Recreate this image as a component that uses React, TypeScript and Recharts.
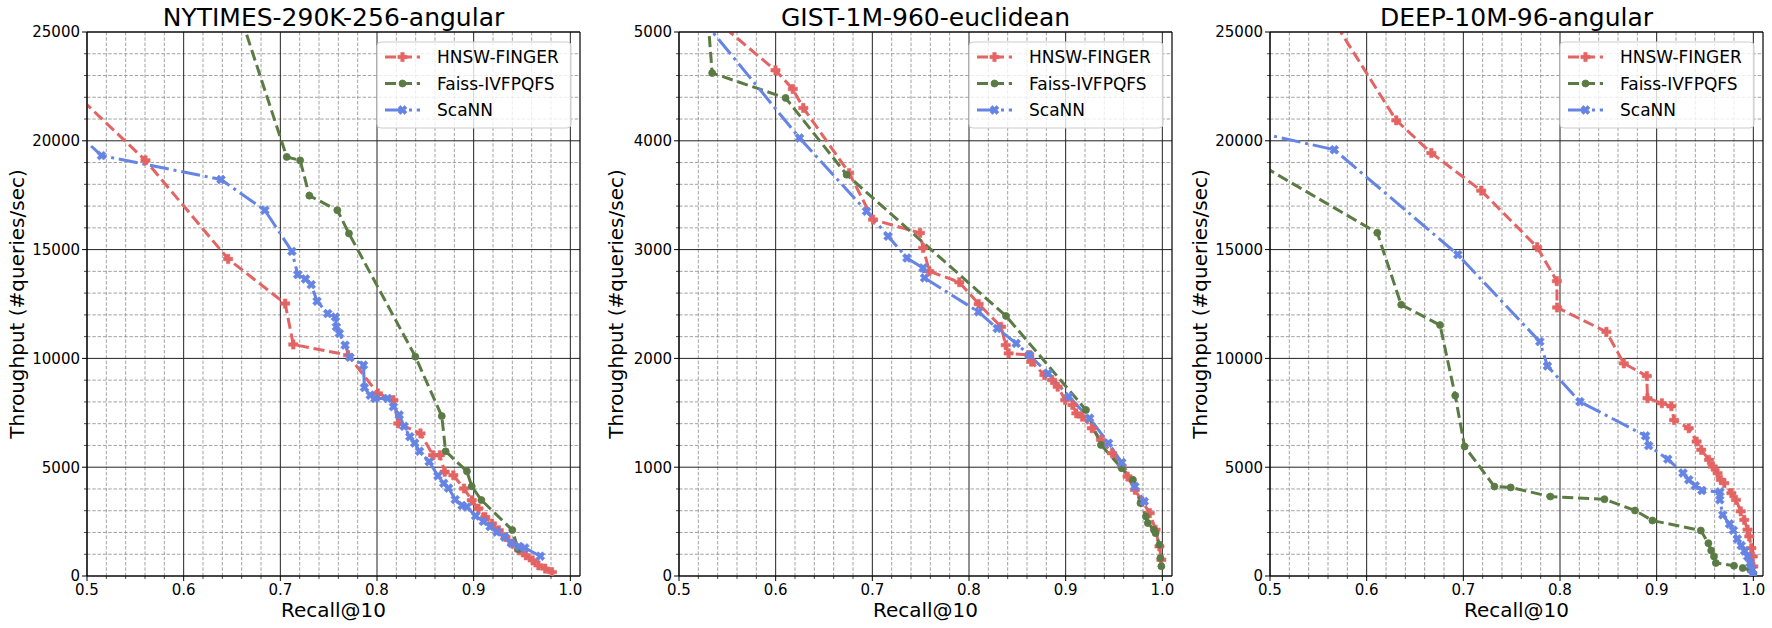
import React from 'react';
import { LineChart, Line, XAxis, YAxis, CartesianGrid, ReferenceLine } from 'recharts';

// ---------- data ----------
// NYTIMES-290K-256-angular
const nytHnswRecall = [0.46, 0.5605, 0.646, 0.705, 0.7134, 0.77, 0.801, 0.817, 0.822, 0.845, 0.858, 0.865, 0.87, 0.879, 0.89, 0.898, 0.905, 0.912, 0.919, 0.926, 0.933, 0.94, 0.947, 0.954, 0.961, 0.967, 0.974, 0.981];
const nytHnswQps = [23350, 19100, 14570, 12520, 10640, 10150, 8390, 8080, 7010, 6550, 5550, 5550, 4790, 4630, 4020, 3480, 3100, 2710, 2410, 2100, 1790, 1490, 1180, 950, 720, 490, 340, 180];
const nytFaissRecall = [0.655, 0.7066, 0.7205, 0.73, 0.759, 0.771, 0.8397, 0.867, 0.871, 0.893, 0.898, 0.908, 0.94, 0.946];
const nytFaissQps = [26260, 19260, 19100, 17480, 16810, 15740, 10080, 7350, 5730, 4810, 4120, 3490, 2110, 1230];
const nytScannRecall = [0.48, 0.515, 0.6386, 0.684, 0.712, 0.718, 0.726, 0.732, 0.738, 0.749, 0.757, 0.758, 0.761, 0.767, 0.772, 0.786, 0.787, 0.793, 0.798, 0.811, 0.817, 0.823, 0.828, 0.834, 0.839, 0.844, 0.854, 0.863, 0.869, 0.874, 0.881, 0.888, 0.893, 0.902, 0.91, 0.917, 0.924, 0.932, 0.939, 0.947, 0.953, 0.969];
const nytScannQps = [20750, 19320, 18220, 16810, 14920, 13850, 13650, 13390, 12630, 12060, 11900, 11450, 11150, 10610, 10050, 9690, 8660, 8310, 8160, 8160, 7780, 7400, 6880, 6400, 6110, 5730, 5250, 4600, 4260, 4040, 3510, 3240, 3170, 2760, 2510, 2270, 2020, 1790, 1510, 1360, 1290, 910];

// GIST-1M-960-euclidean
const gistHnswRecall = [0.535, 0.5998, 0.6177, 0.6286, 0.676, 0.7007, 0.7494, 0.7525, 0.759, 0.79, 0.81, 0.8332, 0.838, 0.841, 0.8624, 0.8644, 0.878, 0.886, 0.8917, 0.8995, 0.907, 0.911, 0.917, 0.927, 0.9365, 0.948, 0.958, 0.964, 0.9716, 0.9793, 0.987, 0.993, 0.997, 0.999];
const gistHnswQps = [5130, 4648, 4476, 4302, 3704, 3276, 3153, 3015, 2801, 2700, 2500, 2291, 2122, 2046, 2031, 1969, 1847, 1801, 1740, 1618, 1572, 1495, 1465, 1358, 1251, 1128, 1006, 914, 792, 685, 578, 425, 272, 150];
const gistFaissRecall = [0.5275, 0.5343, 0.6103, 0.6734, 0.8383, 0.921, 0.9365, 0.958, 0.9696, 0.9774, 0.983, 0.985, 0.9913, 0.993, 0.997, 0.998, 0.999];
const gistFaissQps = [5400, 4623, 4394, 3689, 2390, 1526, 1205, 991, 884, 670, 547, 486, 425, 394, 287, 165, 89];
const gistScannRecall = [0.52, 0.6247, 0.694, 0.7163, 0.7358, 0.7525, 0.754, 0.8098, 0.8293, 0.8488, 0.8624, 0.882, 0.9033, 0.9248, 0.9443, 0.958, 0.9716, 0.9813];
const gistScannQps = [5160, 4026, 3352, 3123, 2923, 2831, 2740, 2428, 2275, 2138, 2031, 1862, 1648, 1450, 1220, 1043, 823, 685];

// DEEP-10M-96-angular
const deepHnswRecall = [0.56, 0.6306, 0.6669, 0.7185, 0.7764, 0.7967, 0.797, 0.848, 0.866, 0.8898, 0.8905, 0.9054, 0.9152, 0.918, 0.9332, 0.9413, 0.9461, 0.9541, 0.958, 0.963, 0.9664, 0.97, 0.9773, 0.982, 0.987, 0.9906, 0.994, 0.9958, 0.998, 0.9995, 1.0];
const deepHnswQps = [25930, 20940, 19440, 17710, 15110, 13550, 12340, 11220, 9770, 9190, 8170, 7940, 7800, 7170, 6790, 6180, 5800, 5340, 5030, 4730, 4420, 4270, 3810, 3500, 2970, 2580, 2130, 1820, 1280, 900, 440];
const deepFaissRecall = [0.48, 0.611, 0.6357, 0.6759, 0.6916, 0.7013, 0.7322, 0.749, 0.79, 0.846, 0.8776, 0.8956, 0.9457, 0.9535, 0.9564, 0.9593, 0.9612, 0.98, 0.989, 0.997, 1.0];
const deepFaissQps = [19160, 15770, 12470, 11530, 8290, 5950, 4110, 4070, 3650, 3530, 3010, 2550, 2090, 1510, 1170, 900, 596, 474, 367, 275, 100];
const deepScannRecall = [0.48, 0.5665, 0.6943, 0.7791, 0.787, 0.8206, 0.8886, 0.8917, 0.9115, 0.9273, 0.9332, 0.94, 0.9468, 0.9655, 0.9653, 0.9684, 0.9754, 0.9793, 0.9834, 0.9875, 0.991, 0.994, 0.9965, 0.9985, 0.9995];
const deepScannQps = [20450, 19590, 14770, 10770, 9650, 8010, 6440, 5990, 5370, 4730, 4420, 4150, 3930, 3860, 3500, 2810, 2390, 2100, 1700, 1400, 1150, 900, 600, 300, 80];

// ticks
const X_MAJOR = [0.5, 0.6, 0.7, 0.8, 0.9, 1.0];
const X_MINOR = [0.52, 0.54, 0.56, 0.58, 0.62, 0.64, 0.66, 0.68, 0.72, 0.74, 0.76, 0.78, 0.82, 0.84, 0.86, 0.88, 0.92, 0.94, 0.96, 0.98];
const Y25_MAJOR = [0, 5000, 10000, 15000, 20000, 25000];
const Y25_MINOR = [1000, 2000, 3000, 4000, 6000, 7000, 8000, 9000, 11000, 12000, 13000, 14000, 16000, 17000, 18000, 19000, 21000, 22000, 23000, 24000];
const Y5_MAJOR = [0, 1000, 2000, 3000, 4000, 5000];
const Y5_MINOR = [200, 400, 600, 800, 1200, 1400, 1600, 1800, 2200, 2400, 2600, 2800, 3200, 3400, 3600, 3800, 4200, 4400, 4600, 4800];

const SERIES_NAMES = ['HNSW-FINGER', 'Faiss-IVFPQFS', 'ScaNN'];

// ---------- styling ----------
const RED = '#e46363';
const GREEN = '#5b7b45';
const BLUE = '#6584e4';
const FONT = '"DejaVu Sans", "Liberation Sans", sans-serif';

const STYLES = [
  { color: RED, dash: '11.1 4.8', shape: 'plus' },
  { color: GREEN, dash: '11.1 4.8', shape: 'circle' },
  { color: BLUE, dash: '19.2 4.8 3 4.8', shape: 'x' },
];

const X_MAX = 1.01;
const PLOT_TOP = 32;
const PLOT_BOTTOM = 576;
const PLOT_W = 493;
const AXIS_LEFT = 87; // plot left inside each chart svg
const CHART_W = 590;
const FIG_W = 1772;
const FIG_H = 628;
const TICK_FS = 15;

const zip = (xs: number[], ys: number[]) => xs.map((x, i) => ({ x, y: ys[i] }));

const PANELS = [
  {
    title: 'NYTIMES-290K-256-angular', left: 87, yMax: 25000, yMajor: Y25_MAJOR, yMinor: Y25_MINOR, labelGap: 70,
    series: [zip(nytHnswRecall, nytHnswQps), zip(nytFaissRecall, nytFaissQps), zip(nytScannRecall, nytScannQps)],
  },
  {
    title: 'GIST-1M-960-euclidean', left: 679, yMax: 5000, yMajor: Y5_MAJOR, yMinor: Y5_MINOR, labelGap: 63,
    series: [zip(gistHnswRecall, gistHnswQps), zip(gistFaissRecall, gistFaissQps), zip(gistScannRecall, gistScannQps)],
  },
  {
    title: 'DEEP-10M-96-angular', left: 1270, yMax: 25000, yMajor: Y25_MAJOR, yMinor: Y25_MINOR, labelGap: 70,
    series: [zip(deepHnswRecall, deepHnswQps), zip(deepFaissRecall, deepFaissQps), zip(deepScannRecall, deepScannQps)],
  },
];

function Marker({ shape, cx, cy, color }: { shape: string; cx: number; cy: number; color: string }) {
  if (shape === 'circle') return <circle cx={cx} cy={cy} r={3.5} fill={color} stroke={color} strokeWidth={0.8} />;
  const a = 4.6;
  const b = 1.7;
  const pts = [[-b, -a], [b, -a], [b, -b], [a, -b], [a, b], [b, b], [b, a], [-b, a], [-b, b], [-a, b], [-a, -b], [-b, -b]];
  const rot = shape === 'x' ? 45 : 0;
  return (
    <polygon
      points={pts.map(([px, py]) => `${cx + px},${cy + py}`).join(' ')}
      fill={color}
      stroke={color}
      strokeWidth={0.6}
      transform={`rotate(${rot} ${cx} ${cy})`}
    />
  );
}

const isMajor = (v: number, majors: number[]) => majors.some((m) => Math.abs(m - v) < 1e-9);

function Panel({ panel }: { panel: (typeof PANELS)[number] }) {
  const xTicks = [...X_MAJOR, ...X_MINOR].sort((a, b) => a - b);
  const yTicks = [...panel.yMajor, ...panel.yMinor].sort((a, b) => a - b);

  const xTick = (props: any) => {
    const { x, payload } = props;
    const major = isMajor(payload.value, X_MAJOR);
    return (
      <g>
        <line x1={x} x2={x} y1={PLOT_BOTTOM} y2={PLOT_BOTTOM + (major ? 5 : 3)} stroke="#000" strokeWidth={major ? 1 : 0.7} />
        {major && (
          <text x={x} y={PLOT_BOTTOM + 19} textAnchor="middle" fontSize={TICK_FS} fill="#000" fontFamily={FONT}>
            {payload.value.toFixed(1)}
          </text>
        )}
      </g>
    );
  };

  const yTick = (props: any) => {
    const { y, payload } = props;
    const major = isMajor(payload.value, panel.yMajor);
    return (
      <g>
        <line x1={AXIS_LEFT - (major ? 5 : 3)} x2={AXIS_LEFT} y1={y} y2={y} stroke="#000" strokeWidth={major ? 1 : 0.7} />
        {major && (
          <text x={AXIS_LEFT - 7} y={y} dy="0.36em" textAnchor="end" fontSize={TICK_FS} fill="#000" fontFamily={FONT}>
            {payload.value}
          </text>
        )}
      </g>
    );
  };

  return (
    <div style={{ position: 'absolute', left: panel.left - AXIS_LEFT, top: 0 }}>
      <LineChart width={CHART_W} height={FIG_H} margin={{ top: PLOT_TOP, right: CHART_W - AXIS_LEFT - PLOT_W, bottom: 22, left: 27 }}>
        <CartesianGrid verticalValues={X_MINOR} horizontalValues={panel.yMinor} stroke="#8c8c8c" strokeWidth={0.8} strokeDasharray="3.5 1.8" />
        <CartesianGrid verticalValues={X_MAJOR} horizontalValues={panel.yMajor} stroke="#222" strokeWidth={1} />
        <XAxis
          type="number"
          dataKey="x"
          domain={[0.5, X_MAX]}
          allowDataOverflow
          ticks={xTicks}
          interval={0}
          tick={xTick}
          tickLine={false}
          axisLine={false}
          height={30}
        />
        <YAxis
          type="number"
          dataKey="y"
          domain={[0, panel.yMax]}
          allowDataOverflow
          ticks={yTicks}
          interval={0}
          tick={yTick}
          tickLine={false}
          axisLine={false}
          width={60}
        />
        {panel.series.map((data, i) => (
          <Line
            key={SERIES_NAMES[i]}
            data={data}
            dataKey="y"
            name={SERIES_NAMES[i]}
            type="linear"
            stroke={STYLES[i].color}
            strokeWidth={3}
            strokeDasharray={STYLES[i].dash}
            dot={(p: any) =>
              p.cx == null || p.cy == null ? (
                <g key={p.index} />
              ) : (
                <Marker key={p.index} shape={STYLES[i].shape} cx={p.cx} cy={p.cy} color={STYLES[i].color} />
              )
            }
            activeDot={false}
            isAnimationActive={false}
          />
        ))}
        <ReferenceLine x={0.5} stroke="#000" strokeWidth={1.2} />
        <ReferenceLine x={X_MAX} stroke="#000" strokeWidth={1.2} />
        <ReferenceLine y={0} stroke="#000" strokeWidth={1.2} />
        <ReferenceLine y={panel.yMax} stroke="#000" strokeWidth={1.2} />
      </LineChart>
    </div>
  );
}

function Legend({ right }: { right: number }) {
  const w = 194;
  const h = 86;
  const x0 = right - 9 - w;
  const y0 = PLOT_TOP + 10;
  const rows = [y0 + 15, y0 + 41.5, y0 + 68];
  return (
    <g>
      <rect x={x0} y={y0} width={w} height={h} rx={4} fill="#fff" fillOpacity={0.8} stroke="#cccccc" strokeWidth={1} />
      {SERIES_NAMES.map((name, i) => (
        <g key={name}>
          <line x1={x0 + 8} x2={x0 + 43} y1={rows[i]} y2={rows[i]} stroke={STYLES[i].color} strokeWidth={3} strokeDasharray={STYLES[i].dash} />
          <Marker shape={STYLES[i].shape} cx={x0 + 25.5} cy={rows[i]} color={STYLES[i].color} />
          <text x={x0 + 60} y={rows[i]} dy="0.36em" fontSize={17} fill="#000" fontFamily={FONT}>
            {name}
          </text>
        </g>
      ))}
    </g>
  );
}

export default function App() {
  return (
    <div style={{ position: 'absolute', left: 0, top: 0, width: FIG_W, height: FIG_H, background: '#fff', fontFamily: FONT, overflow: 'hidden' }}>
      {PANELS.map((p) => (
        <Panel key={p.title} panel={p} />
      ))}
      <svg width={FIG_W} height={FIG_H} style={{ position: 'absolute', left: 0, top: 0, pointerEvents: 'none' }}>
        {PANELS.map((p) => {
          const cx = p.left + PLOT_W / 2;
          const cy = (PLOT_TOP + PLOT_BOTTOM) / 2;
          const lx = p.left - p.labelGap;
          return (
            <g key={p.title}>
              <text x={cx} y={26} textAnchor="middle" fontSize={25} fill="#000" fontFamily={FONT}>
                {p.title}
              </text>
              <text x={cx} y={617} textAnchor="middle" fontSize={20} fill="#000" fontFamily={FONT}>
                Recall@10
              </text>
              <text x={lx} y={cy} dy="0.36em" textAnchor="middle" fontSize={20} fill="#000" fontFamily={FONT} transform={`rotate(-90 ${lx} ${cy})`}>
                Throughput (#queries/sec)
              </text>
              <Legend right={p.left + PLOT_W} />
            </g>
          );
        })}
      </svg>
    </div>
  );
}
